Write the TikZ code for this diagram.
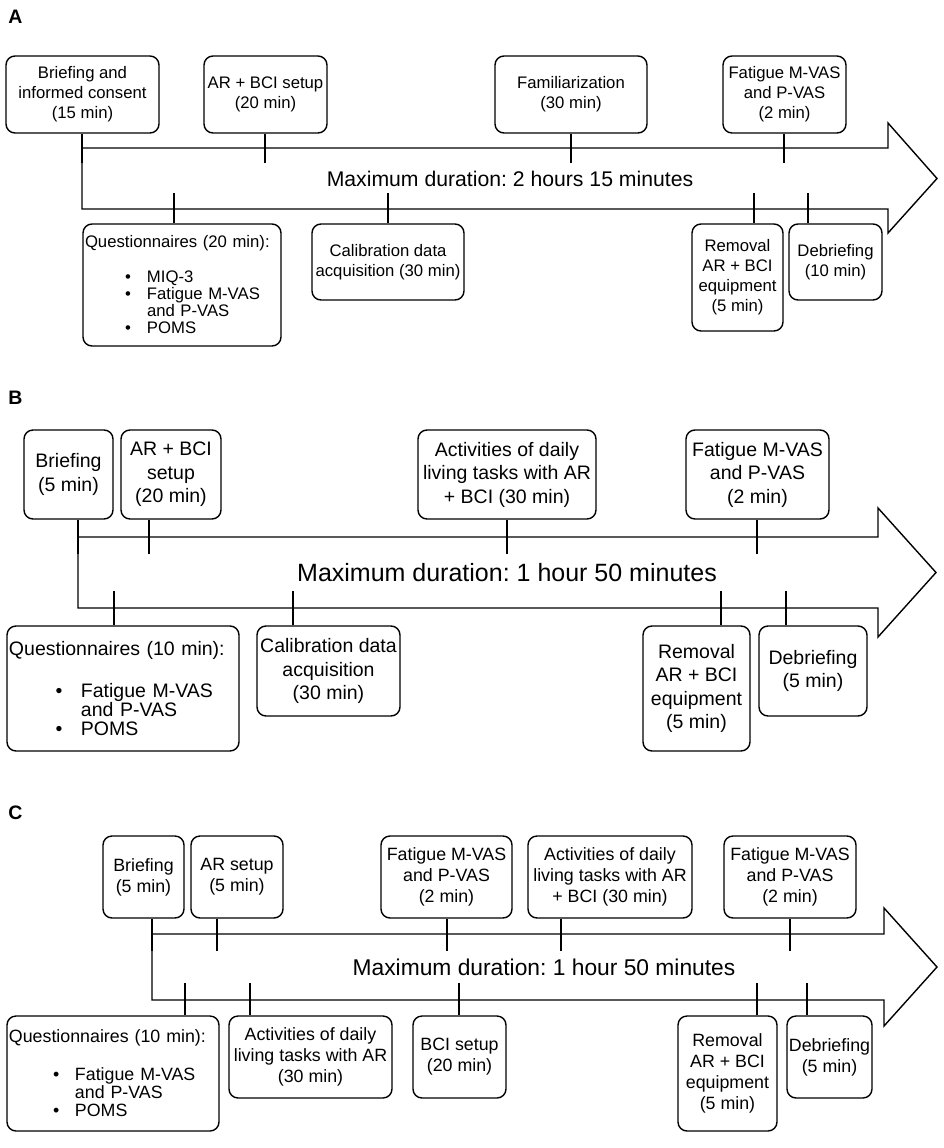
\documentclass[tikz,border=0pt]{standalone}
\usepackage{fontspec}
\setmainfont{Liberation Sans}
\frenchspacing
\newcommand{\qitem}[3]{\hspace*{#1}\makebox[#2][l]{\textbullet}#3}
\newcommand{\qcont}[2]{\hspace*{#1}#2}

\begin{document}
\begin{tikzpicture}[x=1pt, y=-1pt, line width=1.4pt,
	box/.style={draw, rounded corners=9pt, align=center, inner sep=0pt},
	fontA/.style={font=\fontsize{16.7}{20}\selectfont},
	fontB/.style={font=\fontsize{19.5}{23.5}\selectfont},
	fontC/.style={font=\fontsize{17.8}{21}\selectfont},
	panel/.style={font=\fontsize{19.5}{20}\selectfont\bfseries},
	timeline/.style={line join=miter}]
	% Page
	\path[use as bounding box, fill=white] (0,0) rectangle (944,1148);

	% ---------------- Panel A ----------------
	\node[panel] (labA) at (15.5,17) {A};
	% Arrow
	\draw[timeline] (82,148) -- (888,148) -- (888,123) -- (937,178.5)
		-- (888,233) -- (888,209) -- (82,209) -- cycle;
	\node[font=\fontsize{21.2}{24}\selectfont] (durA) at (510,178.5) {Maximum duration: 2 hours 15 minutes};
	% Steps above
	\node[box, fontA, minimum width=153pt, minimum height=77pt] (brfA) at (82.5,94.5) {Briefing and\\informed consent\\(15 min)};
	\node[box, fontA, minimum width=123pt, minimum height=77pt] (setA) at (265.5,94.5) {AR + BCI setup\\(20 min)};
	\node[box, fontA, minimum width=152pt, minimum height=77pt] (famA) at (571,94.5) {Familiarization\\(30 min)};
	\node[box, fontA, minimum width=123pt, minimum height=77pt] (fatA) at (784.5,94.5) {Fatigue M-VAS\\and P-VAS\\(2 min)};
	% Steps below
	\node[box, align=left, font=\fontsize{16.7}{17}\selectfont, minimum width=198pt, minimum height=122pt, text width=194pt] (qstA) at (182,285)
		{Questionnaires (20 min):\\[18pt]
		\qitem{40pt}{22pt}{MIQ-3}\\
		\qitem{40pt}{22pt}{Fatigue M-VAS}\\
		\qcont{62pt}{and P-VAS}\\
		\qitem{40pt}{22pt}{POMS}};
	\node[box, fontA, minimum width=152pt, minimum height=76pt] (calA) at (388,262) {Calibration data\\acquisition (30 min)};
	\node[box, fontA, minimum width=91pt, minimum height=107pt] (remA) at (737.5,277.5) {Removal\\AR + BCI\\equipment\\(5 min)};
	\node[box, fontA, minimum width=93pt, minimum height=76pt] (debA) at (835.5,262) {Debriefing\\(10 min)};
	% Ticks
	\foreach \b/\x in {brfA/82, setA/265, famA/571, fatA/784}{
		\coordinate (t\b) at (\x,163);
		\draw (t\b) -- (t\b |- \b.south);
	}
	\foreach \b/\x in {qstA/174, calA/388, remA/754, debA/808}{
		\coordinate (t\b) at (\x,193);
		\draw (t\b) -- (t\b |- \b.north);
	}

	% ---------------- Panel B ----------------
	\node[panel] (labB) at (15.5,398) {B};
	% Arrow
	\draw[timeline] (78,537) -- (878,537) -- (878,508) -- (936,572.5)
		-- (878,637) -- (878,608) -- (78,608) -- cycle;
	\node[font=\fontsize{25}{28}\selectfont] (durB) at (507,572.5) {Maximum duration: 1 hour 50 minutes};
	% Steps above
	\node[box, fontB, minimum width=89pt, minimum height=89pt] (brfB) at (68.5,474.5) {Briefing\\(5 min)};
	\node[box, fontB, minimum width=100pt, minimum height=89pt] (setB) at (171,474.5) {AR + BCI\\setup\\(20 min)};
	\node[box, fontB, minimum width=178pt, minimum height=89pt] (actB) at (507,474.5) {Activities of daily\\living tasks with AR\\+ BCI (30 min)};
	\node[box, fontB, minimum width=143pt, minimum height=89pt] (fatB) at (757.5,474.5) {Fatigue M-VAS\\and P-VAS\\(2 min)};
	% Steps below
	\node[box, align=left, font=\fontsize{19.5}{19.3}\selectfont, minimum width=232pt, minimum height=125pt, text width=228pt] (qstB) at (123,688.5)
		{Questionnaires (10 min):\\[22.7pt]
		\qitem{46.6pt}{25.4pt}{Fatigue M-VAS}\\
		\qcont{72pt}{and P-VAS}\\
		\qitem{46.6pt}{25.4pt}{POMS}};
	\node[box, fontB, minimum width=143pt, minimum height=90pt] (calB) at (328.5,671) {Calibration data\\acquisition\\(30 min)};
	\node[box, fontB, minimum width=107pt, minimum height=125pt] (remB) at (696.5,688.5) {Removal\\AR + BCI\\equipment\\(5 min)};
	\node[box, fontB, minimum width=108pt, minimum height=90pt] (debB) at (813,671) {Debriefing\\(5 min)};
	% Ticks
	\foreach \b/\x in {brfB/78, setB/149, actB/507, fatB/757}{
		\coordinate (t\b) at (\x,554);
		\draw (t\b) -- (t\b |- \b.south);
	}
	\foreach \b/\x in {qstB/114, calB/293, remB/721, debB/786}{
		\coordinate (t\b) at (\x,591);
		\draw (t\b) -- (t\b |- \b.north);
	}

	% ---------------- Panel C ----------------
	\node[panel] (labC) at (15.5,813) {C};
	% Arrow
	\draw[timeline] (152,934) -- (884,934) -- (884,908) -- (937,967)
		-- (884,1026) -- (884,1000) -- (152,1000) -- cycle;
	\node[font=\fontsize{22.8}{26}\selectfont] (durC) at (544,967) {Maximum duration: 1 hour 50 minutes};
	% Steps above
	\node[box, fontC, minimum width=81pt, minimum height=82pt] (brfC) at (143.5,877) {Briefing\\(5 min)};
	\node[box, fontC, minimum width=92pt, minimum height=82pt] (setC) at (237,877) {AR setup\\(5 min)};
	\node[box, fontC, minimum width=131pt, minimum height=82pt] (fatC) at (446.5,877) {Fatigue M-VAS\\and P-VAS\\(2 min)};
	\node[box, fontC, minimum width=164pt, minimum height=82pt] (actC) at (610,877) {Activities of daily\\living tasks with AR\\+ BCI (30 min)};
	\node[box, fontC, minimum width=132pt, minimum height=82pt] (fatCC) at (790,877) {Fatigue M-VAS\\and P-VAS\\(2 min)};
	% Steps below
	\node[box, align=left, font=\fontsize{17.8}{18}\selectfont, minimum width=212pt, minimum height=115pt, text width=208pt] (qstC) at (113,1073.5)
		{Questionnaires (10 min):\\[20pt]
		\qitem{44pt}{22pt}{Fatigue M-VAS}\\
		\qcont{66pt}{and P-VAS}\\
		\qitem{44pt}{22pt}{POMS}};
	\node[box, fontC, minimum width=163pt, minimum height=82pt] (arC) at (310.5,1057) {Activities of daily\\living tasks with AR\\(30 min)};
	\node[box, fontC, minimum width=93pt, minimum height=82pt] (bciC) at (459.5,1057) {BCI setup\\(20 min)};
	\node[box, fontC, minimum width=99pt, minimum height=115pt] (remC) at (727.5,1073.5) {Removal\\AR + BCI\\equipment\\(5 min)};
	\node[box, fontC, minimum width=85pt, minimum height=82pt] (debC) at (829.5,1057) {Debriefing\\(5 min)};
	% Ticks
	\foreach \b/\x in {brfC/152, setC/217, fatC/447, actC/561, fatCC/790}{
		\coordinate (t\b) at (\x,951);
		\draw (t\b) -- (t\b |- \b.south);
	}
	\foreach \b/\x in {qstC/185, arC/250, bciC/459, remC/757, debC/807}{
		\coordinate (t\b) at (\x,983);
		\draw (t\b) -- (t\b |- \b.north);
	}
\end{tikzpicture}
\end{document}
